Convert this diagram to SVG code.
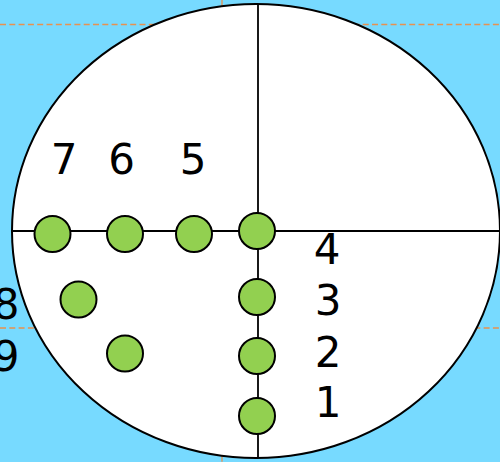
<svg xmlns="http://www.w3.org/2000/svg" width="500" height="462" viewBox="0 0 500 462">
<style>
.guide{stroke:#E8914F;stroke-width:1.3;stroke-dasharray:6 3.3;fill:none}
.axis{stroke:#000;stroke-width:1.8;fill:none}
.dot{fill:#92D050;stroke:#000;stroke-width:2}
.lbl{font-family:"DejaVu Sans",Verdana,sans-serif;font-size:42px;fill:#000;text-anchor:middle}
</style>
<rect width="500" height="462" fill="#77DAFF"/>
<g id="guides">
<line class="guide" x1="0" y1="24.5" x2="500" y2="24.5"/>
<line class="guide" x1="0" y1="328" x2="500" y2="328"/>
<line class="guide" x1="222" y1="0" x2="222" y2="462"/>
</g>
<g id="field">
<ellipse cx="256" cy="231" rx="244" ry="227" fill="#fff" stroke="#000" stroke-width="2"/>
</g>
<g id="connectors">
<line class="axis" x1="258" y1="4" x2="258" y2="458"/>
<line class="axis" x1="12" y1="231" x2="500" y2="231"/>
</g>
<g id="n1"><circle class="dot" cx="257" cy="416" r="18"/><text class="lbl" x="328" y="417">1</text></g>
<g id="n2"><circle class="dot" cx="257" cy="356" r="18"/><text class="lbl" x="328" y="367">2</text></g>
<g id="n3"><circle class="dot" cx="257" cy="297" r="18"/><text class="lbl" x="328" y="315">3</text></g>
<g id="n4"><circle class="dot" cx="257" cy="231" r="18"/><text class="lbl" x="327" y="264">4</text></g>
<g id="n5"><circle class="dot" cx="194" cy="234" r="18"/><text class="lbl" x="193" y="174">5</text></g>
<g id="n6"><circle class="dot" cx="125" cy="234" r="18"/><text class="lbl" x="121.5" y="174">6</text></g>
<g id="n7"><circle class="dot" cx="52.5" cy="234" r="18"/><text class="lbl" x="64" y="174">7</text></g>
<g id="n8"><circle class="dot" cx="78.5" cy="299.5" r="18"/><text class="lbl" x="6" y="319">8</text></g>
<g id="n9"><circle class="dot" cx="125" cy="353.5" r="18"/><text class="lbl" x="6" y="371">9</text></g>
</svg>
